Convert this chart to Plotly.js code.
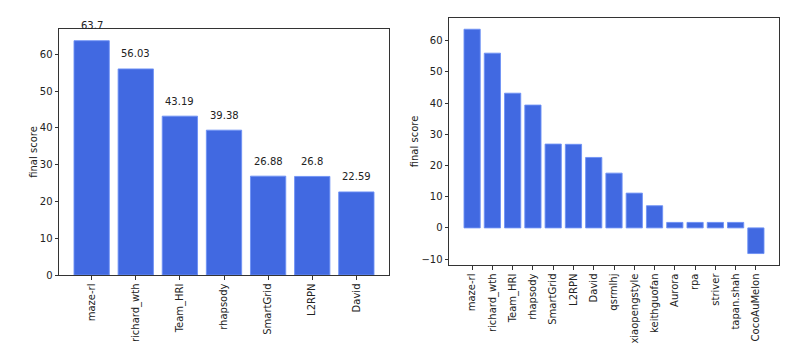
<!DOCTYPE html>
<html><head><meta charset="utf-8">
<script src="https://cdn.plot.ly/plotly-3.0.1.min.js"></script>
<style>body{margin:0;padding:0;background:#fff}#c{width:800px;height:351px}</style>
</head><body><div id="c"></div>
<script>
const topTeams = ['maze-rl','richard_wth','Team_HRI','rhapsody','SmartGrid','L2RPN','David'];
const topScores = [63.7, 56.03, 43.19, 39.38, 26.88, 26.8, 22.59];
const allTeams = ['maze-rl','richard_wth','Team_HRI','rhapsody','SmartGrid','L2RPN','David','qsrmlhj','xiaopengstyle','keithguofan','Aurora','rpa','striver','tapan.shah','CocoAuMelon'];
const allScores = [63.7, 56.03, 43.19, 39.38, 26.88, 26.8, 22.59, 17.56, 11.15, 7.1, 1.76, 1.76, 1.76, 1.76, -8.23];

const barColor = '#4169E1';
const font = {family: 'DejaVu Sans, sans-serif', size: 10, color: '#222'};

const traces = [
  {type:'bar', x: topTeams, y: topScores, xaxis:'x', yaxis:'y',
   marker:{color:barColor, line:{color:'rgba(110,145,245,0.9)', width:1}}, hoverinfo:'none'},
  {type:'bar', x: allTeams, y: allScores, xaxis:'x2', yaxis:'y2',
   marker:{color:barColor, line:{color:'rgba(110,145,245,0.9)', width:1}}, hoverinfo:'none'}
];

const annotations = topTeams.map((t,i)=>({
  x: t, y: topScores[i], xref:'x', yref:'y', text: String(topScores[i]), yshift: 15,
  showarrow:false, xanchor:'center', yanchor:'middle', font: font
}));

function xax(dom, n){
  return {domain: dom, type:'category', range:[-0.4-0.05*(n-0.2), n-1+0.4+0.05*(n-0.2)],
    showline:true, mirror:true, linecolor:'#333', linewidth:1, ticks:'outside', ticklen:3.5, tickcolor:'#333',
    tickangle:-90, tickfont:font, showgrid:false, zeroline:false, fixedrange:true};
}
function yax(dom, rng, anchor){
  return {domain: dom, range: rng, anchor: anchor, dtick:10, showline:true, mirror:true, linecolor:'#333', linewidth:1,
    ticks:'outside', ticklen:3.5, tickcolor:'#333', tickfont:font, showgrid:false, zeroline:false,
    title:{text:'final score', font:font, standoff:0}, fixedrange:true};
}

const layout = {
  width:800, height:351, margin:{l:0,r:0,t:0,b:0}, paper_bgcolor:'#fff', plot_bgcolor:'#fff',
  showlegend:false, bargap:0.2, font:font,
  xaxis: Object.assign(xax([0.07375,0.48625], 7), {anchor:'y'}),
  yaxis: yax([0.2165,0.9174], [0, 66.885], 'x'),
  xaxis2: Object.assign(xax([0.56125,0.97375], 15), {anchor:'y2'}),
  yaxis2: yax([0.245,0.9487], [-11.9, 67.3], 'x2'),
  annotations: annotations
};
Plotly.newPlot('c', traces, layout, {staticPlot:true});
</script></body></html>
